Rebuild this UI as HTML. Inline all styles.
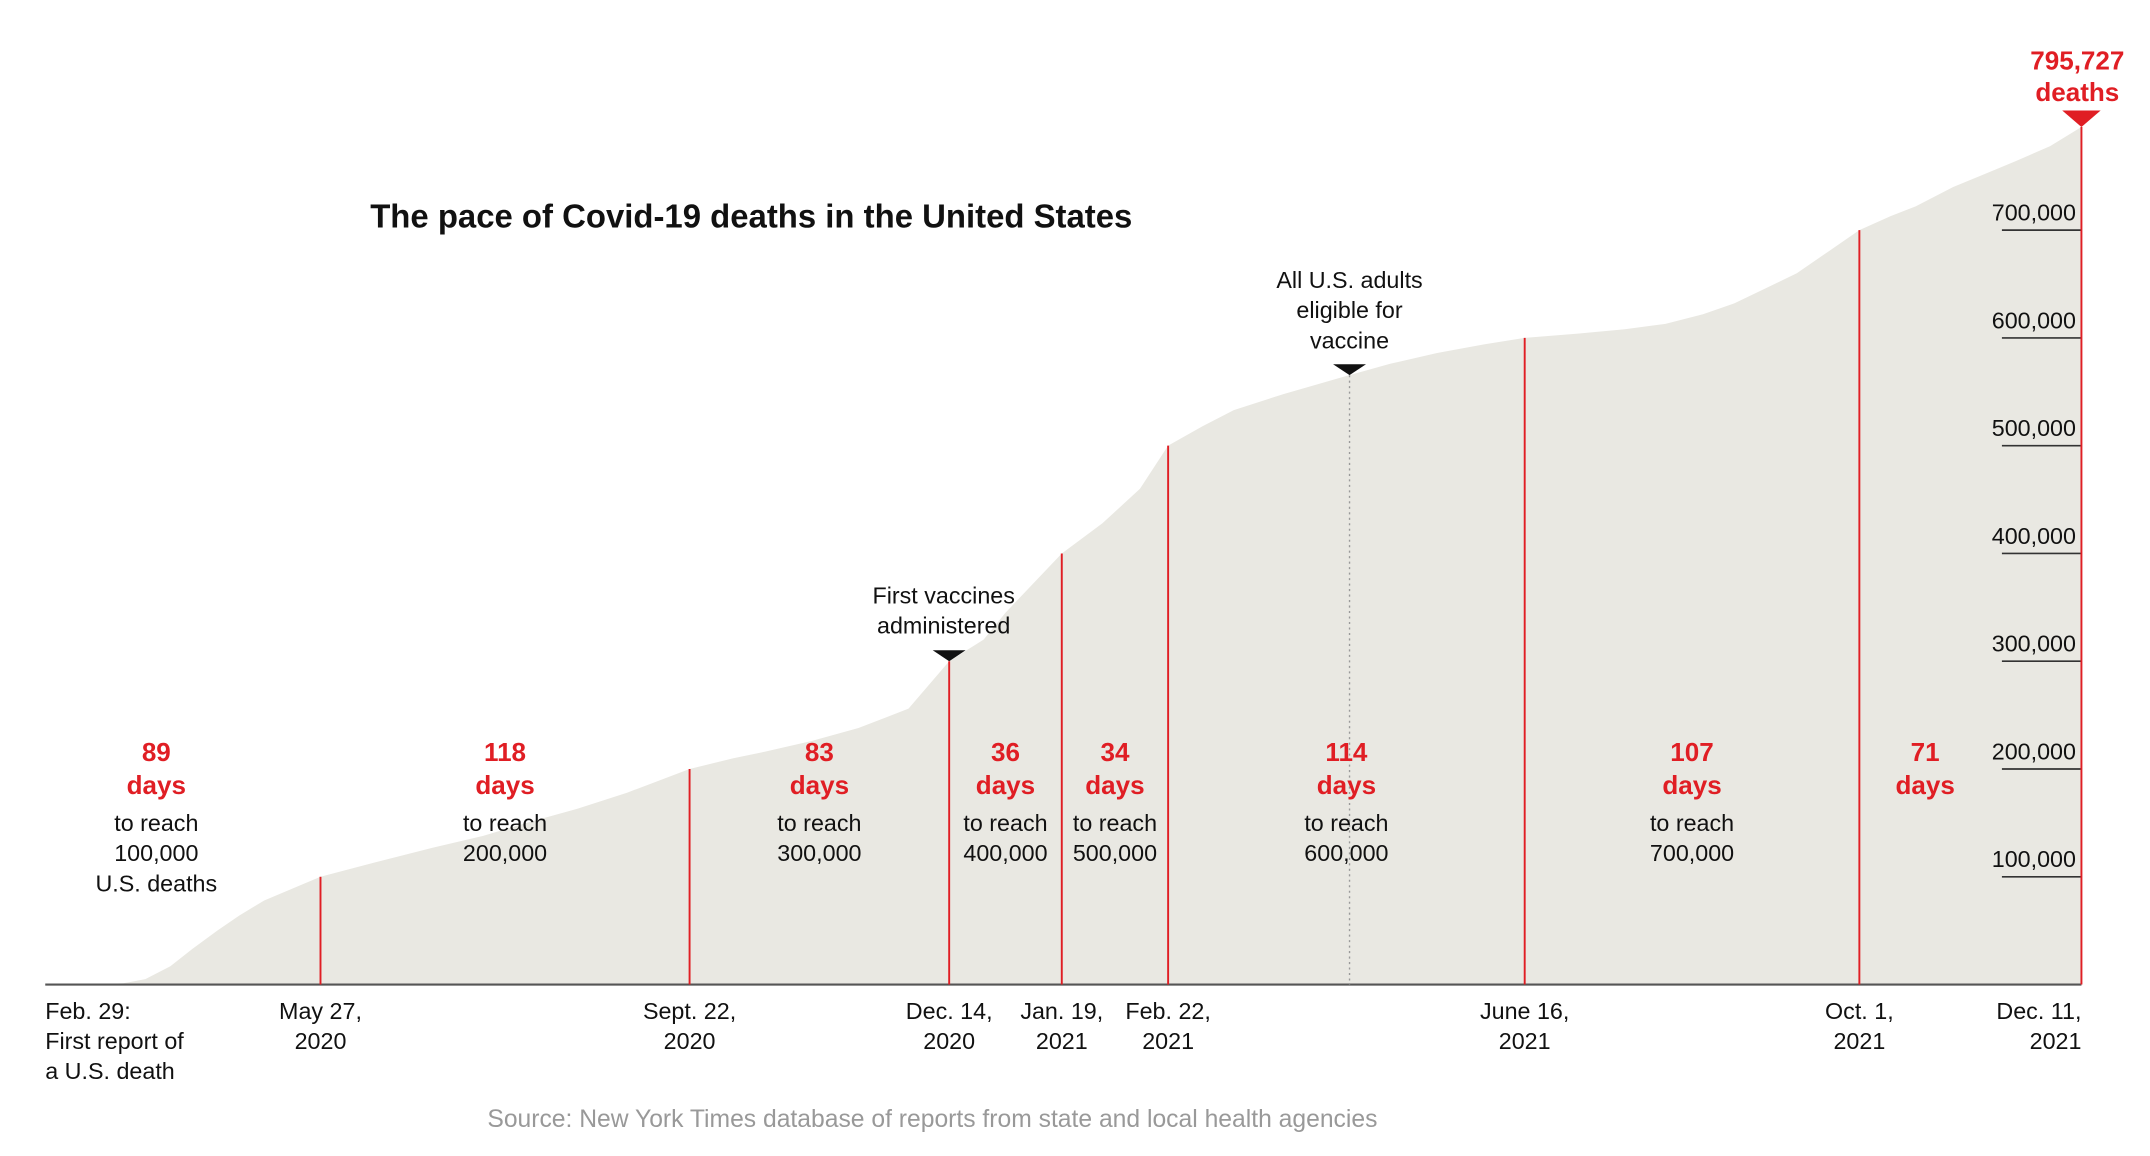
<!DOCTYPE html>
<html><head><meta charset="utf-8"><style>
html,body{margin:0;padding:0;background:#fff}
svg{display:block}
text{font-family:"Liberation Sans",sans-serif}
</style></head><body>
<svg id="chart" width="2150" height="1156" viewBox="0 0 1568 843" xmlns="http://www.w3.org/2000/svg">
<text x="270" y="166" font-size="24" font-weight="bold" fill="#111">The pace of Covid-19 deaths in the United States</text>
<g id="area"></g>
<g id="grid"></g>
<g id="marks"></g>
<g id="labels"></g>
<text x="680" y="822" font-size="18" fill="#999" text-anchor="middle">Source: New York Times database of reports from state and local health agencies</text>
</svg>
<script>
// Days since Feb. 29, 2020
const seriesDays = [0,10,15,25,32,40,47,55,62,70,88,105,124,140,155,170,186,206,220,230,245,260,276,289,300,307,325,338,350,359,370,380,396,414,430,445,460,473,490,505,518,530,540,550,560,570,580,590,598,610,620,630,641,651];
const seriesDeaths = [1,30,70,1200,5000,17000,33000,50000,64000,78000,100000,113000,127000,138000,151000,163000,178000,200000,210000,216000,226000,238000,256000,300000,320000,345000,400000,428000,460000,500000,518000,533000,548000,563000,576000,586000,594000,600000,604000,608000,613000,622000,632000,646000,660000,680000,700000,713000,722000,740000,752000,764000,778000,795727];
const yTicks = [100000,200000,300000,400000,500000,600000,700000];
const milestoneDays = [88,206,289,325,359,473,580,651];
const milestoneLabels = [["May 27,","2020"],["Sept. 22,","2020"],["Dec. 14,","2020"],["Jan. 19,","2021"],["Feb. 22,","2021"],["June 16,","2021"],["Oct. 1,","2021"],["Dec. 11,","2021"]];
const intervalCounts = ["89","118","83","36","34","114","107","71"];
const intervalTargets = ["100,000","200,000","300,000","400,000","500,000","600,000","700,000",""];
const eligibleDay = 417;
const vaccineDay = 289;

const X0=33,X1=1518,Y0=718,PER=78.6;
const x=d=>X0+(X1-X0)*d/651;
const y=v=>Y0-v/100000*PER;
const NS="http://www.w3.org/2000/svg";
function mk(tag,attrs,parent,txt){const e=document.createElementNS(NS,tag);for(const k in attrs)e.setAttribute(k,attrs[k]);if(txt!==undefined)e.textContent=txt;parent.appendChild(e);return e;}
function valAt(d){for(let i=1;i<seriesDays.length;i++){if(d<=seriesDays[i]){const t=(d-seriesDays[i-1])/(seriesDays[i]-seriesDays[i-1]);return seriesDeaths[i-1]+t*(seriesDeaths[i]-seriesDeaths[i-1]);}}return seriesDeaths[seriesDeaths.length-1];}

const area=document.getElementById('area'),grid=document.getElementById('grid'),marks=document.getElementById('marks'),labels=document.getElementById('labels');
let p=`M${x(0)},${Y0}`;
seriesDays.forEach((d,i)=>{p+=` L${x(d)},${y(seriesDeaths[i])}`;});
p+=` L${x(651)},${Y0} Z`;
const a=mk('path',{d:p,fill:'#e9e8e2'},area);



yTicks.forEach(v=>{
  const l=mk('line',{x1:1460,x2:X1,y1:y(v),y2:y(v),stroke:'#333','stroke-width':1.2},grid);
  
  
  const t=mk('text',{x:1514,y:y(v)-7,'font-size':17,'text-anchor':'end',fill:'#111'},grid,v.toLocaleString('en-US'));
  
  
});

const base=mk('line',{x1:X0,x2:X1,y1:Y0,y2:Y0,stroke:'#555','stroke-width':1.5},marks);



const dl=mk('line',{x1:x(eligibleDay),x2:x(eligibleDay),y1:y(valAt(eligibleDay)),y2:Y0,stroke:'#999','stroke-width':1,'stroke-dasharray':'1.5,2.5'},marks);



milestoneDays.forEach((d,i)=>{
  const l=mk('line',{x1:x(d),x2:x(d),y1:y(valAt(d)),y2:Y0,stroke:'#e01e24','stroke-width':1.4},marks);
  
  
  const anchor=i===milestoneLabels.length-1?'end':'middle';
  const lx=i===milestoneLabels.length-1?X1:x(d);
  milestoneLabels[i].forEach((s,j)=>{
    const t=mk('text',{x:lx,y:743+j*22,'font-size':17,'text-anchor':anchor,fill:'#111'},labels,s);
    
    
  });
});
["Feb. 29:","First report of","a U.S. death"].forEach((s,j)=>{
  const t=mk('text',{x:X0,y:743+j*22,'font-size':17,fill:'#111'},labels,s);
  
  
});

const starts=[0].concat(milestoneDays.slice(0,-1));
intervalCounts.forEach((c,i)=>{
  let cx=(x(starts[i])+x(milestoneDays[i]))/2;
  if(i===0)cx=114;
  if(i===intervalCounts.length-1)cx=1404;
  const t1=mk('text',{x:cx,y:555,'font-size':19,'font-weight':'bold','text-anchor':'middle',fill:'#e01e24'},labels,c);
  
  
  const t2=mk('text',{x:cx,y:579,'font-size':19,'font-weight':'bold','text-anchor':'middle',fill:'#e01e24'},labels,'days');
  
  
  if(intervalTargets[i]){
    const lines=["to reach",intervalTargets[i]];
    if(i===0)lines.push("U.S. deaths");
    lines.forEach((s,j)=>{
      const t=mk('text',{x:cx,y:606+j*22,'font-size':17,'text-anchor':'middle',fill:'#111'},labels,s);
      
      
    });
  }
});

const vx=x(vaccineDay),vy=y(valAt(vaccineDay));
["First vaccines","administered"].forEach((s,j)=>{
  const t=mk('text',{x:vx-4,y:440+j*22,'font-size':17,'text-anchor':'middle',fill:'#111'},labels,s);
  
  
});
const tri1=mk('path',{d:`M${vx-12},${vy-8} L${vx+12},${vy-8} L${vx},${vy} Z`,fill:'#111'},labels);


const ex=x(eligibleDay),ey=y(valAt(eligibleDay));
["All U.S. adults","eligible for","vaccine"].forEach((s,j)=>{
  const t=mk('text',{x:ex,y:210+j*22,'font-size':17,'text-anchor':'middle',fill:'#111'},labels,s);
  
  
});
const tri2=mk('path',{d:`M${ex-12},${ey-8} L${ex+12},${ey-8} L${ex},${ey} Z`,fill:'#111'},labels);



const last=seriesDeaths[seriesDeaths.length-1],ly=y(last);
const tl1=mk('text',{x:1515,y:ly-42,'font-size':19,'font-weight':'bold','text-anchor':'middle',fill:'#e01e24'},labels,last.toLocaleString('en-US'));


const tl2=mk('text',{x:1515,y:ly-19,'font-size':19,'font-weight':'bold','text-anchor':'middle',fill:'#e01e24'},labels,'deaths');


const tri3=mk('path',{d:`M${X1-14},${ly-12} L${X1+14},${ly-12} L${X1},${ly} Z`,fill:'#e01e24'},labels);


</script>
</body></html>
